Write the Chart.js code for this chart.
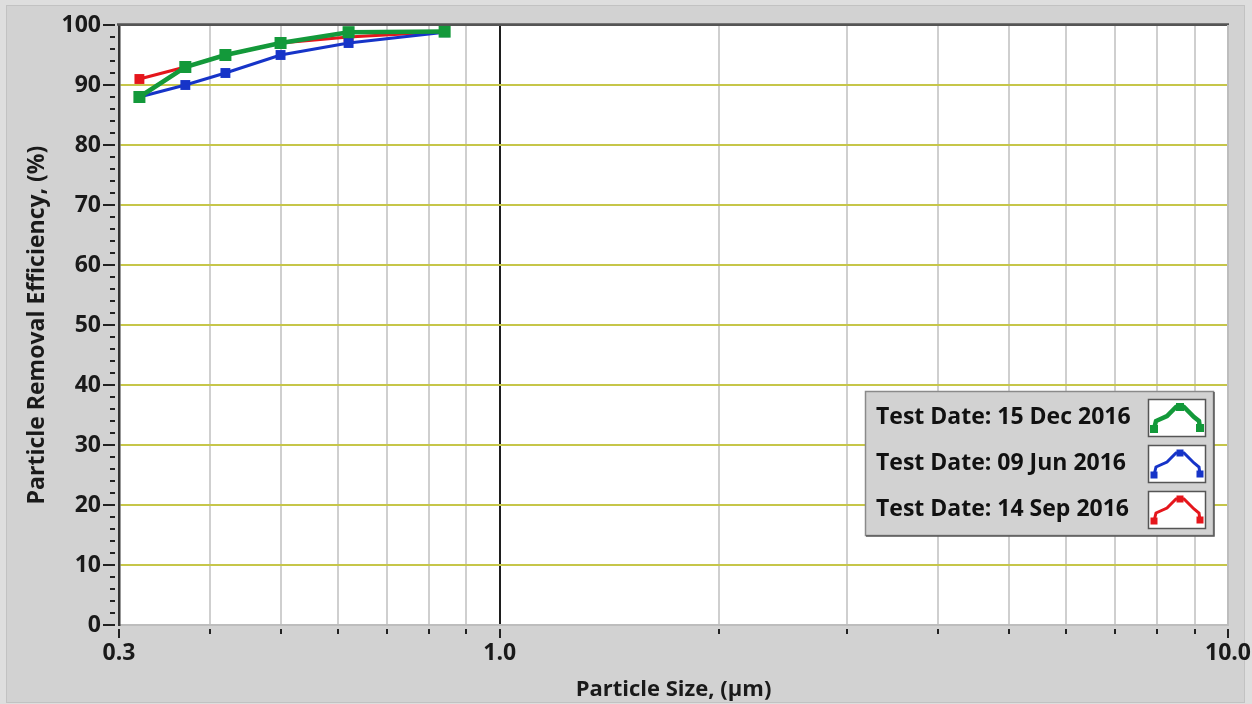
<!DOCTYPE html>
<html>
<head>
<meta charset="utf-8">
<script src="https://cdn.jsdelivr.net/npm/chart.js@4.4.1/dist/chart.umd.min.js"></script>
<style>
html,body{margin:0;padding:0;background:#dedede;}
#wrap{width:1252px;height:704px;position:relative;}
canvas{display:block;}
</style>
</head>
<body>
<div id="wrap"><canvas id="c" width="1252" height="704"></canvas></div>
<script>
// ---- data ----
const particleSizes = [0.32, 0.37, 0.42, 0.5, 0.62, 0.84];
const effDec2016 = [88, 93, 95, 97, 98.8, 98.9];
const effJun2016 = [88, 90, 92, 95, 97, 98.8];
const effSep2016 = [91, 93, 95, 97, 98, 98.9];
const seriesLabels = ['Test Date: 15 Dec 2016', 'Test Date: 09 Jun 2016', 'Test Date: 14 Sep 2016'];
const xTickValues = [0.3,0.4,0.5,0.6,0.7,0.8,0.9,1,2,3,4,5,6,7,8,9,10];
const xTickLabels = {0.3:'0.3', 1:'1.0', 10:'10.0'};
const yMajorTicks = [0,10,20,30,40,50,60,70,80,90,100];
const yMinorStep = 2;

const FONT = '"Open Sans", "Noto Sans", "DejaVu Sans", sans-serif';
const colors = ['#13993a', '#1634c8', '#e5161c'];
const lineWidths = [4.5, 3, 3.2];
const pointRadii = [8.5, 7, 7];

function pts(ys){ return particleSizes.map((x,i)=>({x:x, y:ys[i]})); }

const bgPlugin = {
  id:'bg',
  beforeDraw(chart){
    const ctx = chart.ctx, a = chart.chartArea;
    ctx.save();
    ctx.fillStyle = '#dedede';
    ctx.fillRect(0,0,chart.width,chart.height);
    ctx.fillStyle = '#d2d2d2';
    ctx.fillRect(6,5,chart.width-13,chart.height-6);
    ctx.strokeStyle = '#c2c2c2';
    ctx.lineWidth = 1;
    ctx.strokeRect(6.5,5.5,chart.width-14,chart.height-7);
    ctx.fillStyle = '#ffffff';
    ctx.fillRect(a.left,a.top,a.right-a.left,a.bottom-a.top);
    ctx.restore();
  },
  afterDraw(chart){
    const ctx = chart.ctx, a = chart.chartArea;
    const xs = chart.scales.x, ys = chart.scales.y;
    ctx.save();
    // frame top (dark) and right (light)
    ctx.strokeStyle = '#555555'; ctx.lineWidth = 2.5;
    ctx.beginPath(); ctx.moveTo(a.left-2, a.top-0.5); ctx.lineTo(a.right+1, a.top-0.5); ctx.stroke();
    ctx.strokeStyle = '#bdbdbd'; ctx.lineWidth = 2;
    ctx.beginPath(); ctx.moveTo(a.right, a.top); ctx.lineTo(a.right, a.bottom); ctx.stroke();
    // y ticks
    ctx.strokeStyle = '#222222'; ctx.lineWidth = 2;
    for (let v = 0; v <= 100; v += yMinorStep){
      const y = Math.round(ys.getPixelForValue(v));
      const major = yMajorTicks.includes(v);
      ctx.beginPath();
      ctx.moveTo(major ? a.left-16 : a.left-9, y);
      ctx.lineTo(a.left-4, y);
      ctx.stroke();
    }
    // x ticks
    xTickValues.forEach(v=>{
      const x = Math.round(xs.getPixelForValue(v));
      const major = (v in xTickLabels);
      ctx.beginPath();
      ctx.moveTo(x, a.bottom+4);
      ctx.lineTo(x, a.bottom + (major ? 13 : 9));
      ctx.stroke();
    });
    // legend
    const L = {x:865, y:391, w:348, h:144};
    ctx.fillStyle = '#d2d2d2';
    ctx.fillRect(L.x, L.y, L.w, L.h);
    ctx.strokeStyle = '#8a8a8a'; ctx.lineWidth = 1.5;
    ctx.strokeRect(L.x+0.5, L.y+0.5, L.w, L.h);
    ctx.strokeStyle = '#5a5a5a'; ctx.lineWidth = 1.5;
    ctx.beginPath(); ctx.moveTo(L.x+L.w+1, L.y+1); ctx.lineTo(L.x+L.w+1, L.y+L.h+1); ctx.lineTo(L.x+1, L.y+L.h+1); ctx.stroke();
    ctx.font = 'bold 23px ' + FONT;
    ctx.textBaseline = 'middle';
    ctx.textAlign = 'left';
    seriesLabels.forEach((lab,i)=>{
      const cy = 417 + i*46;
      ctx.fillStyle = '#111111';
      ctx.fillText(lab, 876, cy);
      const bx = 1148, by = cy-18, bw = 57, bh = 37;
      ctx.fillStyle = '#ffffff';
      ctx.fillRect(bx, by, bw, bh);
      ctx.strokeStyle = '#555555'; ctx.lineWidth = 1.5;
      ctx.strokeRect(bx+0.5, by+0.5, bw, bh);
      const p = [[bx+6, by+bh-7],[bx+8, by+bh-15],[bx+19, by+17],[bx+28, by+8],[bx+36, by+8],[bx+46, by+18],[bx+51, by+bh-15],[bx+52, by+bh-8]];
      ctx.strokeStyle = colors[i]; ctx.lineWidth = i===0 ? 4.5 : 3;
      ctx.lineJoin = 'miter';
      ctx.beginPath();
      p.forEach((q,k)=>{ if(k===0) ctx.moveTo(q[0],q[1]); else ctx.lineTo(q[0],q[1]); });
      ctx.stroke();
      ctx.fillStyle = colors[i];
      const s = i===0 ? 8 : 7;
      [p[0], [bx+32, by+8], p[7]].forEach(q=>ctx.fillRect(q[0]-s/2, q[1]-s/2, s, s));
    });
    ctx.restore();
  }
};

const ds = [effDec2016, effJun2016, effSep2016].map((arr,i)=>({
  label: seriesLabels[i],
  data: pts(arr),
  borderColor: colors[i],
  backgroundColor: colors[i],
  borderWidth: lineWidths[i],
  pointStyle: 'rect',
  pointRadius: pointRadii[i],
  pointBorderWidth: 0,
  pointBackgroundColor: colors[i],
  tension: 0,
  fill: false
}));

new Chart(document.getElementById('c'), {
  type: 'line',
  data: { datasets: ds },
  options: {
    responsive: false,
    animation: false,
    devicePixelRatio: 1,
    layout: { padding: { left: 0, right: 24, top: 25, bottom: 0 } },
    plugins: { legend: { display: false }, tooltip: { enabled: false } },
    scales: {
      x: {
        type: 'logarithmic',
        min: 0.3, max: 10,
        afterBuildTicks(scale){ scale.ticks = xTickValues.map(v=>({value:v})); },
        afterFit(scale){ scale.height = 79; scale.paddingLeft = 0; scale.paddingRight = 0; },
        ticks: {
          autoSkip: false, maxRotation: 0, padding: 15,
          color: '#1a1a1a',
          font: { family: FONT, size: 23, weight: 'bold' },
          callback(v){ return xTickLabels[v] !== undefined ? xTickLabels[v] : ''; }
        },
        grid: {
          drawTicks: false,
          lineWidth: 2,
          color(c){ const v = c.tick && c.tick.value; if (v === 1) return '#1e1e1e'; if (v === 0.3) return '#333333'; return '#cfcfcf'; }
        },
        border: { display: true, color: '#bdbdbd', width: 2 },
        title: { display: true, text: 'Particle Size, (\u00b5m)', color: '#1a1a1a', font: { family: FONT, size: 22, weight: 'bold' }, padding: { top: 0, bottom: 1 } }
      },
      y: {
        type: 'linear',
        min: 0, max: 100,
        afterBuildTicks(scale){ scale.ticks = yMajorTicks.map(v=>({value:v})); },
        afterFit(scale){ scale.width = 119; scale.paddingTop = 0; scale.paddingBottom = 0; },
        ticks: {
          padding: 18,
          color: '#1a1a1a',
          font: { family: FONT, size: 23, weight: 'bold' },
          callback(v){ return String(v); }
        },
        grid: {
          drawTicks: false,
          lineWidth: 2,
          color(c){ const v = c.tick && c.tick.value; if (v === 100) return '#555555'; if (v === 0) return '#bdbdbd'; return '#c6c64a'; }
        },
        border: { display: true, color: '#333333', width: 2.5 },
        title: { display: true, text: 'Particle Removal Efficiency, (%)', color: '#1a1a1a', font: { family: FONT, size: 23, weight: 'bold' }, padding: { top: 24, bottom: 0 } }
      }
    }
  },
  plugins: [bgPlugin]
});
</script>
</body>
</html>
